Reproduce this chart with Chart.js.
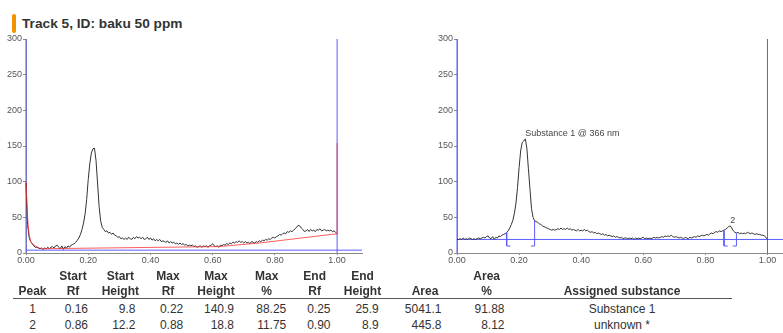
<!DOCTYPE html>
<html>
<head>
<meta charset="utf-8">
<script src="https://cdn.jsdelivr.net/npm/chart.js@4.4.1/dist/chart.umd.min.js"></script>
<style>
  body { margin: 0; width: 783px; height: 333px; overflow: hidden; background: #fff; position: relative; font-family: "Liberation Sans", Arial, sans-serif; }
  .title-bar { position: absolute; left: 12px; top: 14px; width: 3.5px; height: 19px; background: #f39200; border-radius: 2px; }
  .title { position: absolute; left: 22px; top: 15.5px; line-height: 16px; font-weight: bold; font-size: 13.7px; color: #333; white-space: nowrap; }
  canvas { position: absolute; }
  #peakTable span { position: absolute; white-space: nowrap; line-height: 14px; font-family: "Liberation Sans", Arial, sans-serif; font-size: 12px; color: #333; }
  #peakTable .head { font-weight: bold; }
  #peakTable .rule { position: absolute; left: 13px; width: 719px; height: 1px; background: #555; }
</style>
</head>
<body>
<div class="title-bar"></div>
<div class="title">Track 5, ID: baku 50 ppm</div>
<canvas id="rawChart" width="370" height="240" style="left:0;top:30px"></canvas>
<canvas id="peakChart" width="363" height="240" style="left:420px;top:30px"></canvas>
<div id="peakTable"></div>
<script>
// densitogram sampled every 0.005 Rf, from 0.00 to 1.00
const rfStep = 0.005;

// raw scan (AU)
const rawScan = [
  98, 40, 22, 16, 13, 10, 8, 8, 7, 6, 7, 5, 7, 6, 8, 6, 8, 9, 7, 10,
  11, 8, 6, 10, 5, 9, 7, 10, 8, 11, 12, 13, 15, 18, 21, 26, 33, 42, 55, 75,
  103, 125, 140, 146, 147, 130, 98, 65, 45, 36, 33, 30, 31, 28, 29, 26, 28, 25, 24, 22,
  23, 20, 21, 19, 21, 19, 22, 20, 19, 22, 20, 23, 21, 22, 20, 22, 19, 20, 22, 19,
  21, 18, 20, 17, 19, 17, 19, 16, 17, 16, 15, 17, 14, 16, 14, 15, 13, 14, 12, 14,
  12, 13, 11, 12, 10, 11, 10, 11, 9, 10, 8, 9, 10, 8, 10, 9, 10, 8, 10, 11,
  13, 10, 9, 10, 8, 11, 10, 12, 11, 13, 12, 14, 13, 15, 14, 16, 15, 17, 15, 16,
  14, 16, 14, 15, 13, 16, 15, 14, 16, 15, 17, 16, 18, 17, 19, 18, 20, 19, 21, 22,
  21, 23, 24, 26, 25, 27, 28, 27, 30, 29, 31, 30, 32, 34, 36, 39, 38, 35, 33, 30,
  31, 33, 30, 33, 31, 32, 30, 33, 32, 34, 31, 32, 33, 31, 32, 31, 32, 30, 31, 29,
  27
];

// baseline under the raw scan (Rf, AU)
const rawBaseRf = [0, 0.005, 0.0075, 0.01, 0.015, 0.02, 0.03, 0.04, 0.05, 0.62, 0.75, 1.0, 1.0];
const rawBaseVal = [100, 50, 37, 26, 16, 13, 10, 7.5, 6, 9, 14, 27, 154];
const rawZeroLevel = 4;

// baseline-corrected scan, offset to the integration level
const peakLevel = 19;
const correctedScan = [
  19, 19, 20, 19, 21, 19, 20, 19, 21, 20, 19, 20, 19, 20, 21, 20, 21, 22, 21, 23,
  24, 21, 20, 23, 19, 22, 21, 24, 23, 25, 26, 27, 29, 31, 35, 40, 46, 56, 70, 92,
  120, 143, 155, 157, 160, 147, 118, 90, 62, 50, 45, 44, 43, 41, 40, 38, 37, 36, 35, 34,
  33, 32, 33, 32, 33, 34, 33, 35, 33, 34, 33, 35, 33, 34, 32, 33, 32, 31, 33, 31,
  32, 31, 33, 31, 32, 30, 29, 30, 28, 29, 27, 28, 27, 26, 27, 25, 26, 24, 25, 24,
  23, 24, 22, 23, 22, 21, 22, 20, 21, 21, 20, 21, 20, 21, 19, 21, 20, 21, 20, 21,
  22, 20, 21, 20, 21, 20, 21, 22, 21, 22, 21, 22, 23, 22, 24, 23, 24, 23, 25, 23,
  22, 23, 22, 21, 22, 21, 20, 22, 21, 20, 22, 21, 22, 23, 22, 24, 23, 24, 25, 24,
  25, 26, 25, 27, 28, 27, 29, 30, 29, 31, 30, 31, 32, 33, 35, 37, 38, 35, 31, 29,
  28, 29, 27, 28, 27, 28, 27, 29, 28, 27, 28, 27, 26, 27, 26, 26, 25, 25, 24, 22,
  19
];

// peak table
const peakNo = [1, 2];
const startRf = [0.16, 0.86];
const startHeight = [9.8, 12.2];
const maxRf = [0.22, 0.88];
const maxHeight = [140.9, 18.8];
const maxPct = [88.25, 11.75];
const endRf = [0.25, 0.90];
const endHeight = [25.9, 8.9];
const area = [5041.1, 445.8];
const areaPct = [91.88, 8.12];
const assigned = ['Substance 1', 'unknown *'];
const peakNames = ['Substance 1 @ 366 nm', '2'];

const blue = '#5c5cff';
const red = 'rgba(255, 40, 40, 0.75)';
const traceColor = '#333';
const axisColor = '#8a8a8a';
const tickFont = { family: 'Liberation Sans, Arial, sans-serif', size: 9 };

const toPoints = (vals) => vals.map((v, i) => ({ x: +(i * rfStep).toFixed(4), y: v }));
const line = (data, color, extra) => Object.assign({
  data: data, borderColor: color, borderWidth: 1, pointRadius: 0, tension: 0, fill: false, clip: false
}, extra || {});

function scales(xMax, yWidth) {
  return {
    x: {
      type: 'linear', min: 0, max: xMax,
      border: { color: axisColor },
      grid: { drawOnChartArea: false, color: axisColor, tickLength: 2 },
      ticks: {
        stepSize: 0.2, includeBounds: false, padding: 0, color: '#555', font: tickFont,
        maxRotation: 0, autoSkip: false, callback: v => v.toFixed(2)
      },
      afterFit: s => { s.height = 17; }
    },
    y: {
      min: 0, max: 300,
      border: { color: axisColor },
      grid: { drawOnChartArea: false, color: axisColor, tickLength: 3 },
      ticks: { stepSize: 50, padding: 1, color: '#555', font: tickFont },
      afterFit: s => { s.width = yWidth; }
    }
  };
}

const baseOptions = (xMax, yWidth, padRight) => ({
  responsive: false,
  animation: false,
  layout: { padding: { top: 9, right: padRight, left: 0, bottom: 0 } },
  plugins: { legend: { display: false }, tooltip: { enabled: false } },
  scales: scales(xMax, yWidth)
});

// raw scan with its baseline
new Chart(document.getElementById('rawChart'), {
  type: 'line',
  data: {
    datasets: [
      line(rawBaseRf.map((r, i) => ({ x: r, y: rawBaseVal[i] })), red),
      line(toPoints(rawScan), traceColor),
      line([{ x: 0, y: rawZeroLevel }, { x: 1.08, y: rawZeroLevel }], blue),
      line([{ x: 0, y: 0 }, { x: 0, y: 300 }], blue),
      line([{ x: 1, y: 0 }, { x: 1, y: 300 }], blue)
    ]
  },
  options: baseOptions(1.08, 26, 8)
});

// integration brackets for every peak
const bracketFoot = 0.012;
const bracketLow = 9.8;
const brackets = [];
peakNo.forEach((p, i) => {
  brackets.push(line([
    { x: startRf[i], y: peakLevel + startHeight[i] },
    { x: startRf[i], y: bracketLow },
    { x: startRf[i] + bracketFoot, y: bracketLow }
  ], blue));
  brackets.push(line([
    { x: endRf[i] - bracketFoot, y: bracketLow },
    { x: endRf[i], y: bracketLow },
    { x: endRf[i], y: peakLevel + endHeight[i] }
  ], blue));
});

const peakLabelPlugin = {
  id: 'peakLabels',
  afterDatasetsDraw(chart) {
    const { ctx, scales: { x, y } } = chart;
    ctx.save();
    ctx.font = '9px "Liberation Sans", Arial, sans-serif';
    ctx.fillStyle = '#444';
    ctx.textAlign = 'left';
    ctx.textBaseline = 'bottom';
    peakNames.forEach((name, i) => {
      ctx.fillText(name, x.getPixelForValue(maxRf[i]), y.getPixelForValue(peakLevel + maxHeight[i]) - 1);
    });
    ctx.restore();
  }
};

new Chart(document.getElementById('peakChart'), {
  type: 'line',
  data: {
    datasets: brackets.concat([
      line(toPoints(correctedScan), traceColor),
      line([{ x: 1, y: 0 }, { x: 1, y: 300 }], blue),
      line([{ x: 0, y: 0 }, { x: 0, y: 300 }], blue),
      line([{ x: 0, y: peakLevel }, { x: 1.05, y: peakLevel }], blue)
    ])
  },
  options: baseOptions(1.05, 37, 0),
  plugins: [peakLabelPlugin]
});

// results table under the charts: header centre, value anchor, value alignment
const columns = [
  { head: 32.5, val: 32.5, align: 'c' },
  { head: 73, val: 88, align: 'r' },
  { head: 120.3, val: 135.5, align: 'r' },
  { head: 168, val: 183.3, align: 'r' },
  { head: 216, val: 234, align: 'r' },
  { head: 266.7, val: 286.3, align: 'r' },
  { head: 314.7, val: 330.5, align: 'r' },
  { head: 362.5, val: 378.8, align: 'r' },
  { head: 425, val: 441.5, align: 'r' },
  { head: 486.7, val: 504.5, align: 'r' },
  { head: 622, val: 622, align: 'c' }
];
const headTop = ['', 'Start', 'Start', 'Max', 'Max', 'Max', 'End', 'End', '', 'Area', ''];
const headBottom = ['Peak', 'Rf', 'Height', 'Rf', 'Height', '%', 'Rf', 'Height', 'Area', '%', 'Assigned substance'];

const table = document.getElementById('peakTable');
function cell(text, x, align, yMid, cls) {
  const s = document.createElement('span');
  s.textContent = text;
  if (cls) s.className = cls;
  s.style.left = x + 'px';
  s.style.top = (yMid - 7) + 'px';
  s.style.transform = align === 'r' ? 'translateX(-100%)' : 'translateX(-50%)';
  table.appendChild(s);
}
headTop.forEach((t, c) => { if (t) cell(t, columns[c].head, 'c', 276, 'head'); });
headBottom.forEach((t, c) => cell(t, columns[c].head, 'c', 291, 'head'));
const rule = document.createElement('div');
rule.className = 'rule';
rule.style.top = '298px';
table.appendChild(rule);

peakNo.forEach((p, i) => {
  const row = [
    String(p), startRf[i].toFixed(2), startHeight[i].toFixed(1), maxRf[i].toFixed(2),
    maxHeight[i].toFixed(1), maxPct[i].toFixed(2), endRf[i].toFixed(2), endHeight[i].toFixed(1),
    area[i].toFixed(1), areaPct[i].toFixed(2), assigned[i]
  ];
  row.forEach((t, c) => cell(t, columns[c].val, columns[c].align, 309 + i * 16, ''));
});
</script>
</body>
</html>
